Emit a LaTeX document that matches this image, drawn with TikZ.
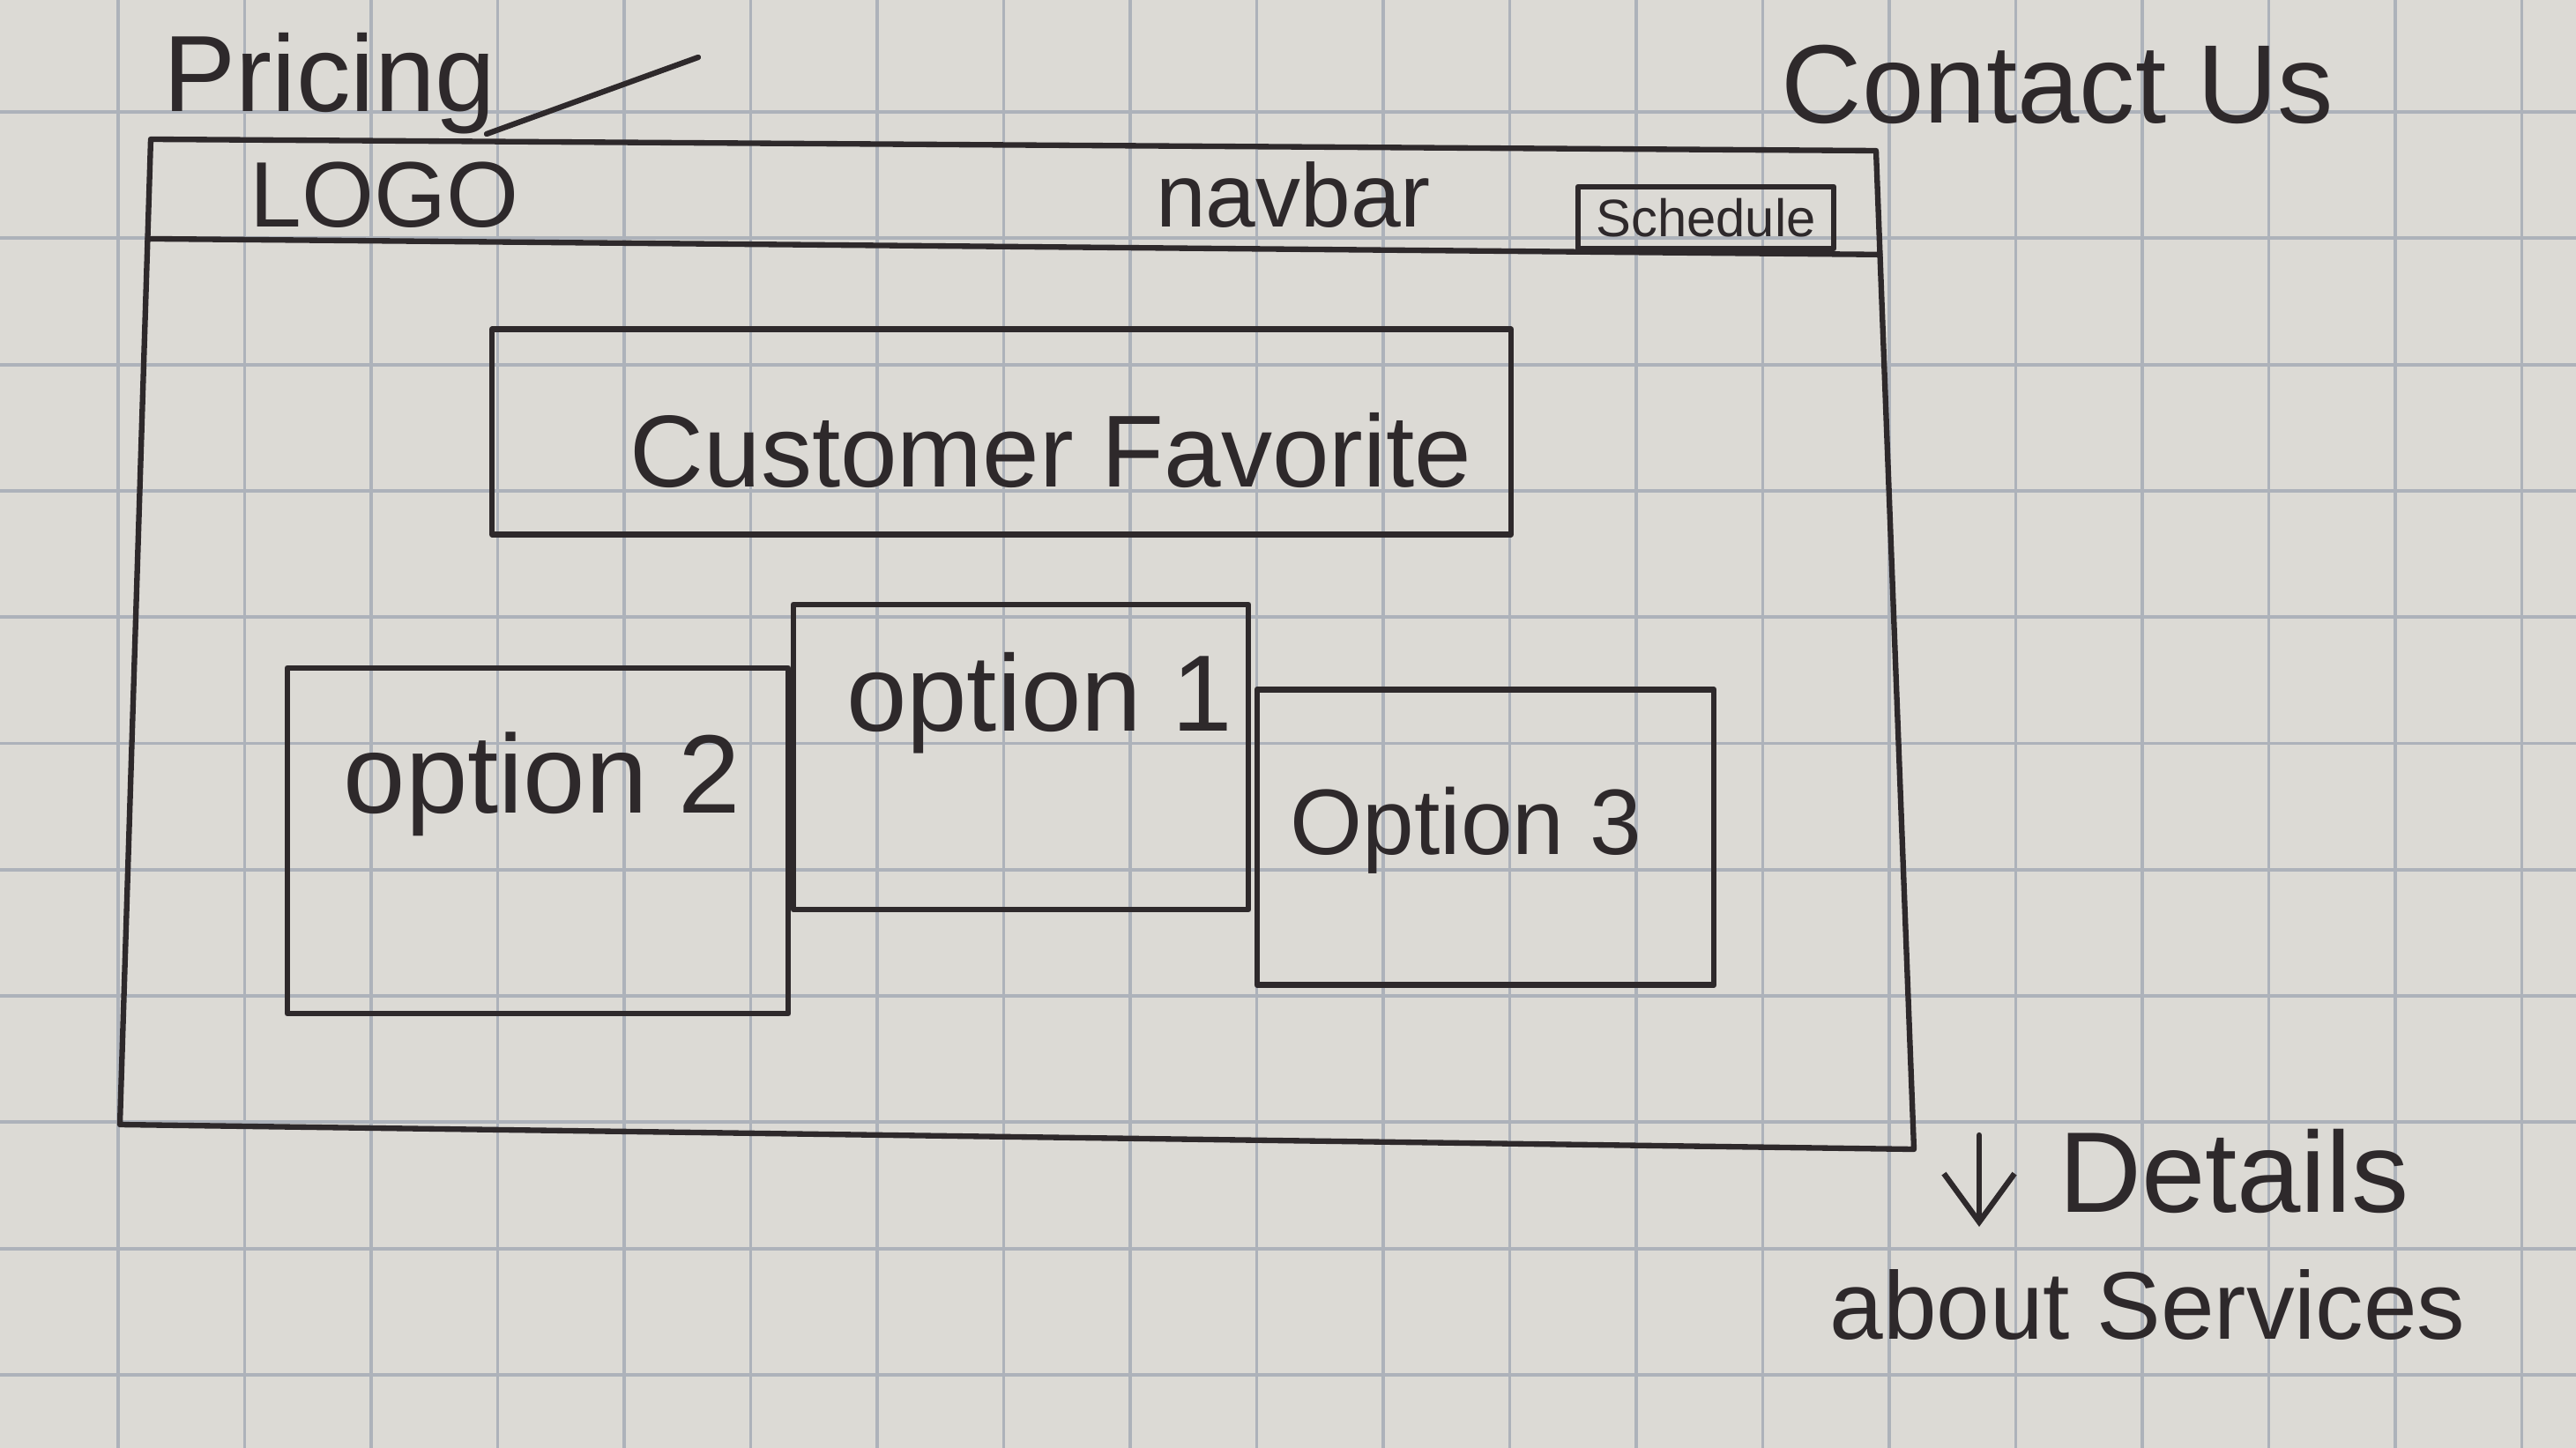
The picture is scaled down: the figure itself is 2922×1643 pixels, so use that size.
\documentclass[tikz,border=0pt]{standalone}
\usepackage{fontspec}
\setmainfont{Liberation Sans}
\usepackage{xcolor}
\usetikzlibrary{arrows.meta, calc}
\definecolor{paper}{HTML}{DCDAD5}
\definecolor{gridblue}{HTML}{ADB2BA}
\definecolor{ink}{HTML}{2E292B}
\newcommand{\inksize}[1]{\fontsize{#1pt}{#1pt}\selectfont}

\begin{document}
\begin{tikzpicture}[
  x=0.01cm, y=-0.01cm,
  ink_line/.style={draw=ink, line width=1.8pt, line join=round, line cap=round},
  wire_box/.style={ink_line, rectangle, inner sep=0pt},
  hand/.style={text=ink, inner sep=0pt, anchor=base},
  paper_grid/.style={draw=gridblue, line width=1.1pt},
]
  \useasboundingbox (0,0) rectangle (2922,1643);
  \fill[paper] (0,0) rectangle (2922,1643);

  % squared paper
  \foreach \gx in {0,...,19}
    \draw[paper_grid] (134+143.5*\gx,0) -- (134+143.5*\gx,1643);
  \foreach \gy in {0,...,10}
    \draw[paper_grid] (0,127+143.3*\gy) -- (2922,127+143.3*\gy);

  % page frame with the navbar strip
  \coordinate (f_tl) at (171,158);
  \coordinate (f_tr) at (2128,171);
  \coordinate (f_br) at (2171,1304);
  \coordinate (f_bl) at (136,1276);
  \draw[ink_line] (f_tl) -- (f_tr) -- (f_br) -- (f_bl) -- cycle;
  \coordinate (nav_l) at ($(f_tl)!0.101!(f_bl)$);
  \coordinate (nav_r) at ($(f_tr)!0.104!(f_br)$);
  \draw[ink_line] (nav_l) -- (nav_r);

  \node[hand, font=\inksize{30}] (logo) at (436,258) {LOGO};
  \node[hand, font=\inksize{29}] (navbar) at (1467,258) {navbar};
  \node[wire_box, minimum width=2.9cm, minimum height=0.7cm,
        font=\inksize{17}, text=ink] (schedule) at (1935,247) {Schedule};

  % links drawn outside the frame
  \node[hand, font=\inksize{35}] (pricing) at (374,127) {Pricing};
  \coordinate (price_from) at (552,152);
  \coordinate (price_to) at (792,65);
  \draw[ink_line] (price_from) -- (price_to);
  \node[hand, font=\inksize{36}] (contact) at (2334,140) {Contact Us};

  % page content
  \node[wire_box, minimum width=11.55cm, minimum height=2.33cm] (fav) at (1136,490) {};
  \node[hand, font=\inksize{33}] (fav_text) at (1192,553) {Customer Favorite};

  \node[wire_box, minimum width=5.68cm, minimum height=3.92cm] (opt2) at (610,954) {};
  \node[hand, font=\inksize{36}] (opt2_text) at (615,922) {option 2};

  \node[wire_box, minimum width=5.16cm, minimum height=3.46cm] (opt1) at (1158,859) {};
  \node[hand, font=\inksize{35}] (opt1_text) at (1179,829) {option 1};

  \node[wire_box, minimum width=5.18cm, minimum height=3.35cm] (opt3) at (1685,950) {};
  \node[hand, font=\inksize{30}] (opt3_text) at (1663,969) {Option 3};

  % below the fold
  \coordinate (fold_top) at (2245,1288);
  \coordinate (fold_end) at (2245,1392);
  \draw[ink_line, -{Straight Barb[length=0.55cm, width=0.8cm, line width=1.8pt]}]
    (fold_top) -- (fold_end);
  \node[hand, font=\inksize{37}] (details) at (2534,1375) {Details};
  \node[hand, font=\inksize{31}] (services) at (2436,1519) {about Services};
\end{tikzpicture}
\end{document}
